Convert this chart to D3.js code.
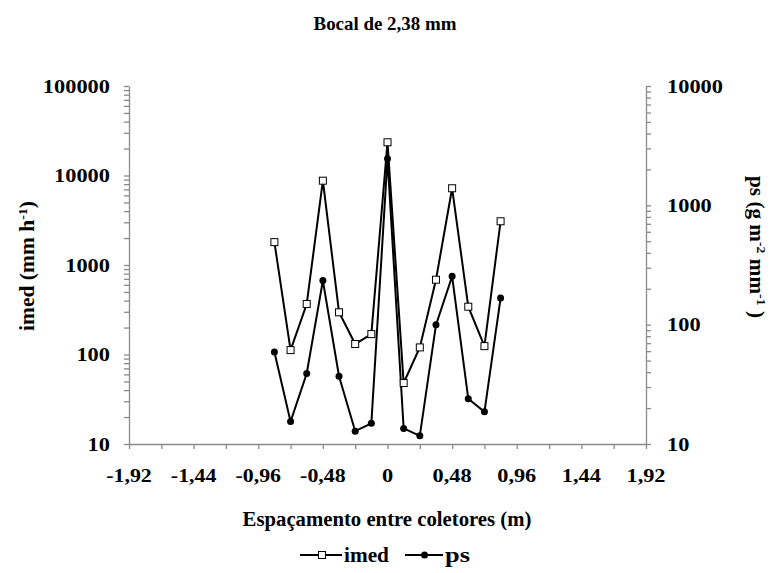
<!DOCTYPE html>
<html><head><meta charset="utf-8">
<script src="https://cdn.jsdelivr.net/npm/d3@7"></script>
<style>body{margin:0;background:#fff}svg{display:block}</style>
</head><body><svg id="c" width="772" height="573"></svg>
<script>
const positions = [-0.84,-0.72,-0.60,-0.48,-0.36,-0.24,-0.12,0,0.12,0.24,0.36,0.48,0.60,0.72,0.84];
const imed = [1800,112,367,8750,296,131,169,23500,48,120,685,7200,342,124,3080];
const ps = [59,15.4,39,234,37,12.8,14.9,2460,13.5,11.7,99.6,254,23.9,18.6,167];
const xTickLabels = ["-1,92","-1,44","-0,96","-0,48","0","0,48","0,96","1,44","1,92"];
const xTickValues = [-1.92,-1.44,-0.96,-0.48,0,0.48,0.96,1.44,1.92];
const leftTicks = [10,100,1000,10000,100000];
const rightTicks = [10,100,1000,10000];

const svg = d3.select("#c");
const L=129, R=646, T=86, B=444;
const axisColor = "#8a8a8a";
const FF = "Liberation Serif, Tinos, Times New Roman, Times, DejaVu Serif, Noto Serif, serif";
const x = d3.scaleLinear().domain([-1.92,1.92]).range([L,R]);
const yL = d3.scaleLog().domain([10,100000]).range([B,T]);
const yR = d3.scaleLog().domain([10,10000]).range([B,T]);

function minors(maxExp){const a=[];for(let e=1;e<maxExp;e++)for(let m=1;m<10;m++)a.push(m*Math.pow(10,e));a.push(Math.pow(10,maxExp));return a;}

// width estimate of reference glyphs (px) to stretch to
function refWidth(s){let w=0;for(const c of s){w+= (c==="-")?6.5:(c===","?5.5:11.2);}return w;}

function label(px,py,str,size,anchor,target,rot){
  const g = svg.append("g");
  const t = g.append("text").attr("x",0).attr("y",0).attr("dy","0.35em")
    .attr("text-anchor",anchor).attr("font-size",size).attr("font-family",FF).attr("font-weight","bold").attr("fill","#000");
  if (typeof str === "string") t.text(str);
  else str.forEach(p=>{ const s=t.append("tspan").text(p[0]); if(p[1]){s.attr("baseline-shift","super").attr("font-size",size*0.65);} });
  const w = t.node().getComputedTextLength();
  const sx = target ? target/w : 1;
  g.attr("transform",`translate(${px},${py}) rotate(${rot||0}) scale(${sx},1)`);
  return t;
}

// left axis
const gl = svg.append("g").attr("transform",`translate(${L},0)`)
  .call(d3.axisLeft(yL).tickValues(minors(5)).tickFormat("").tickSize(5).tickSizeOuter(0));
gl.selectAll("path,line").attr("stroke",axisColor).attr("stroke-width",1.3);
leftTicks.forEach(d=>label(110,yL(d),String(d),19,"end",refWidth(String(d))));

// right axis
const gr = svg.append("g").attr("transform",`translate(${R},0)`)
  .call(d3.axisRight(yR).tickValues(minors(4)).tickFormat("").tickSize(5).tickSizeOuter(0));
gr.selectAll("path,line").attr("stroke",axisColor).attr("stroke-width",1.3);
rightTicks.forEach(d=>label(667,yR(d),String(d),19,"start",refWidth(String(d))));

// x axis
const xMinor = d3.range(17).map(i=>-1.92+i*0.24);
const gx = svg.append("g").attr("transform",`translate(0,${B})`)
  .call(d3.axisBottom(x).tickValues(xMinor).tickFormat("").tickSize(5).tickSizeOuter(0));
gx.selectAll("path,line").attr("stroke",axisColor).attr("stroke-width",1.3);
xTickValues.forEach((d,i)=>label(x(d),475,xTickLabels[i],19,"middle",refWidth(xTickLabels[i])));

// lines
const lineL = d3.line().x((d,i)=>x(positions[i])).y(d=>yL(d));
const lineR = d3.line().x((d,i)=>x(positions[i])).y(d=>yR(d));
svg.append("path").attr("d",lineL(imed)).attr("fill","none").attr("stroke","#000").attr("stroke-width",2);
svg.append("path").attr("d",lineR(ps)).attr("fill","none").attr("stroke","#000").attr("stroke-width",2);
svg.append("g").selectAll("rect").data(imed).join("rect")
  .attr("x",(d,i)=>x(positions[i])-3.5).attr("y",d=>yL(d)-3.5).attr("width",7).attr("height",7)
  .attr("fill","#fff").attr("stroke","#000").attr("stroke-width",1);
svg.append("g").selectAll("circle").data(ps).join("circle")
  .attr("cx",(d,i)=>x(positions[i])).attr("cy",d=>yR(d)).attr("r",3.5).attr("fill","#000");

// titles
label(385,24,"Bocal de 2,38 mm",18,"middle",143);
label(387,519,"Espaçamento entre coletores (m)",20,"middle",289);
label(27,266,[["imed (mm h"],["-1",1],[")"]],20,"middle",130,-90);
label(757,247,[["ps (g m"],["-2",1],[" mm"],["-1",1],[" )"]],20,"middle",142,90);

// legend
const lg = svg.append("g");
lg.append("line").attr("x1",300).attr("x2",342).attr("y1",555).attr("y2",555).attr("stroke","#000").attr("stroke-width",2);
lg.append("rect").attr("x",318.5).attr("y",551.5).attr("width",7).attr("height",7).attr("fill","#fff").attr("stroke","#000");
label(344,555,"imed",20,"start",45);
lg.append("line").attr("x1",405).attr("x2",443).attr("y1",555).attr("y2",555).attr("stroke","#000").attr("stroke-width",2);
lg.append("circle").attr("cx",424.5).attr("cy",555).attr("r",3.5).attr("fill","#000");
label(445,555,"ps",20,"start",25);
</script></body></html>
